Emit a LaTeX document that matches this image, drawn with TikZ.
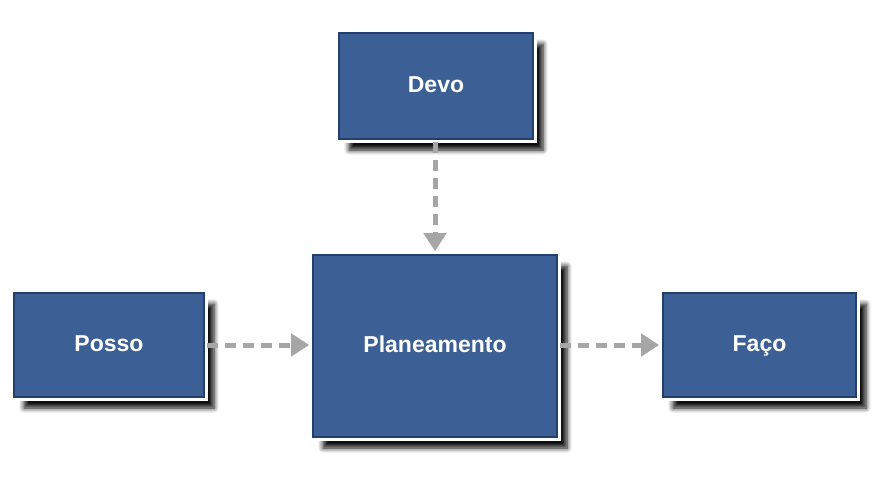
\documentclass[tikz,border=0pt]{standalone}
\usepackage{fontspec}
\setmainfont{Liberation Sans}
\usetikzlibrary{arrows.meta,shadows.blur}
\definecolor{boxblue}{HTML}{3C6096}
\definecolor{boxdark}{HTML}{233F6B}
\definecolor{arrowgray}{HTML}{A6A6A6}
\tikzset{
  box/.style={rectangle, fill=boxblue, draw=boxdark, line width=1.6pt,
    text=white, font=\bfseries\fontsize{23}{26}\selectfont, inner sep=0pt,
    text height=16pt, text depth=4pt,
    blur shadow={shadow xshift=10pt, shadow yshift=-11pt, shadow blur radius=5pt,
      shadow blur steps=6, shadow opacity=95},
    preaction={draw=white, line width=7pt}},
  flow/.style={draw=arrowgray, line width=5pt, dash pattern=on 11pt off 7pt,
    -{Triangle[length=18pt,width=22pt]}, shorten >=3pt, shorten <=2pt}
}
\begin{document}
\begin{tikzpicture}[x=1pt,y=-1pt]
\useasboundingbox (0,0) rectangle (887,498);
\node[box, minimum width=194pt, minimum height=106pt] (devo) at (436,86) {Devo};
\node[box, minimum width=190pt, minimum height=104pt] (posso) at (109,345) {Posso};
\node[box, minimum width=244pt, minimum height=182pt] (plan) at (435,346) {Planeamento};
\node[box, minimum width=193pt, minimum height=104pt] (faco) at (759.5,345) {Faço};
\draw[flow] (devo.south -| plan.north) -- (plan.north);
\draw[flow] (posso.east) -- (plan.west |- posso.east);
\draw[flow] (plan.east |- faco.west) -- (faco.west);
\end{tikzpicture}
\end{document}
